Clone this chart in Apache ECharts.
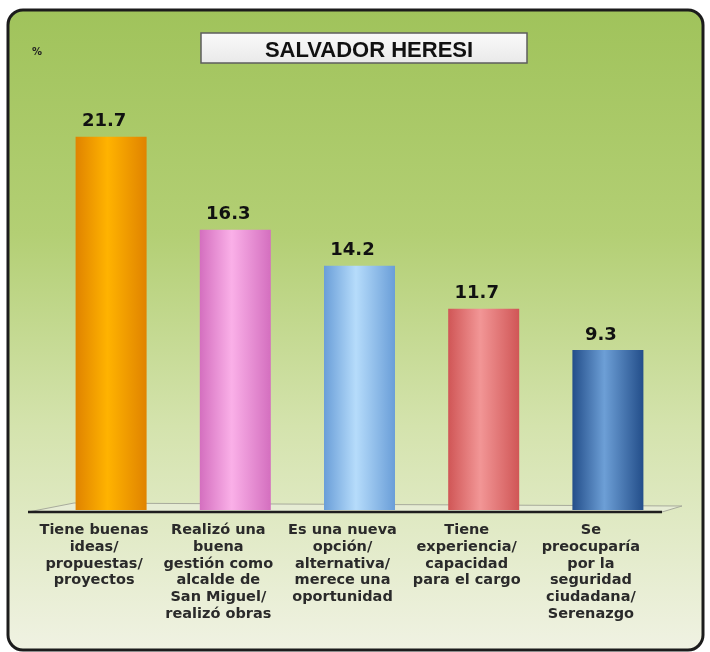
<!DOCTYPE html>
<html lang="es">
<head>
    <meta charset="UTF-8">
    <title>Salvador Heresi</title>
    <style>
        html, body { margin: 0; padding: 0; background: #fff; }
        #main { width: 710px; height: 652px; }
    </style>
</head>
<body>
    <div id="main"></div>
    <script src="https://cdn.jsdelivr.net/npm/echarts@6/dist/echarts.min.js"></script>
    <script>
        // datos
        var categorias = [
            'Tiene buenas\nideas/\npropuestas/\nproyectos',
            'Realizó una\nbuena\ngestión como\nalcalde de\nSan Miguel/\nrealizó obras',
            'Es una nueva\nopción/\nalternativa/\nmerece una\noportunidad',
            'Tiene\nexperiencia/\ncapacidad\npara el cargo',
            'Se\npreocuparía\npor la\nseguridad\nciudadana/\nSerenazgo'
        ];
        var valores = [21.7, 16.3, 14.2, 11.7, 9.3];
        var titulo = 'SALVADOR HERESI';

        // colores de cada cilindro: borde, centro
        var colores = [
            ['#e08300', '#ffb300'],
            ['#d46fbf', '#fab0e8'],
            ['#6a9ed8', '#b6dcfb'],
            ['#d05656', '#f29696'],
            ['#234e8a', '#6d9fd6']
        ];

        function cilindro(c) {
            return new echarts.graphic.LinearGradient(0, 0, 1, 0, [
                { offset: 0, color: c[0] },
                { offset: 0.45, color: c[1] },
                { offset: 1, color: c[0] }
            ]);
        }

        var option = {
            animation: false,
            title: [{
                text: titulo,
                left: 364,
                top: 35,
                textAlign: 'center',
                textStyle: {
                    fontFamily: 'Liberation Sans',
                    fontSize: 22,
                    fontWeight: 'bold',
                    color: '#111'
                }
            }, {
                text: '%',
                left: 27,
                top: 42,
                textStyle: {
                    fontFamily: 'DejaVu Sans',
                    fontSize: 10,
                    fontWeight: 'bold',
                    color: '#222'
                }
            }],
            graphic: [{
                type: 'rect',
                z: -10,
                silent: true,
                shape: { x: 8, y: 10, width: 695, height: 640, r: 15 },
                style: {
                    fill: new echarts.graphic.LinearGradient(0, 0, 0, 1, [
                        { offset: 0, color: '#a0c35b' },
                        { offset: 0.35, color: '#b3cf74' },
                        { offset: 0.65, color: '#d4e3ad' },
                        { offset: 1, color: '#f0f2e3' }
                    ]),
                    stroke: '#1c1c1c',
                    lineWidth: 3
                }
            }, {
                type: 'rect',
                z: -5,
                silent: true,
                shape: { x: 201, y: 33, width: 326, height: 30 },
                style: {
                    fill: new echarts.graphic.LinearGradient(0, 0, 0, 1, [
                        { offset: 0, color: '#fafafa' },
                        { offset: 1, color: '#e9e9e9' }
                    ]),
                    stroke: '#5e5e5e',
                    lineWidth: 1.5
                }
            }, {
                // piso
                type: 'polygon',
                z: -4,
                silent: true,
                shape: { points: [[28, 512], [74, 503], [682, 506], [662, 512]] },
                style: { fill: '#e6ecd4', stroke: '#a8ab9c', lineWidth: 1 }
            }, {
                type: 'line',
                z: -3,
                silent: true,
                shape: { x1: 28, y1: 512, x2: 662, y2: 512 },
                style: { stroke: '#1e1e1e', lineWidth: 2.5 }
            }],
            grid: {
                left: 49,
                right: 40,
                top: 80,
                bottom: 142
            },
            xAxis: {
                type: 'category',
                data: categorias,
                axisLine: { show: false },
                axisTick: { show: false },
                axisLabel: {
                    interval: 0,
                    margin: 12,
                    padding: [0, 34, 0, 0],
                    fontFamily: 'DejaVu Sans',
                    fontSize: 14.5,
                    fontWeight: 'bold',
                    lineHeight: 16.7,
                    color: '#2a2a2a'
                }
            },
            yAxis: {
                type: 'value',
                min: 0,
                max: 25,
                show: false,
                splitLine: { show: false }
            },
            series: [{
                type: 'bar',
                barWidth: 71,
                data: valores.map(function (v, i) {
                    return {
                        value: v,
                        itemStyle: { color: cilindro(colores[i]) }
                    };
                }),
                label: {
                    show: true,
                    position: 'top',
                    distance: 6,
                    offset: [-7, 0],
                    fontFamily: 'DejaVu Sans',
                    fontSize: 18,
                    fontWeight: 'bold',
                    color: '#111',
                    formatter: function (p) { return p.value.toFixed(1); }
                }
            }]
        };

        var myChart = echarts.init(document.getElementById('main'));
        myChart.setOption(option);
    </script>
</body>
</html>
